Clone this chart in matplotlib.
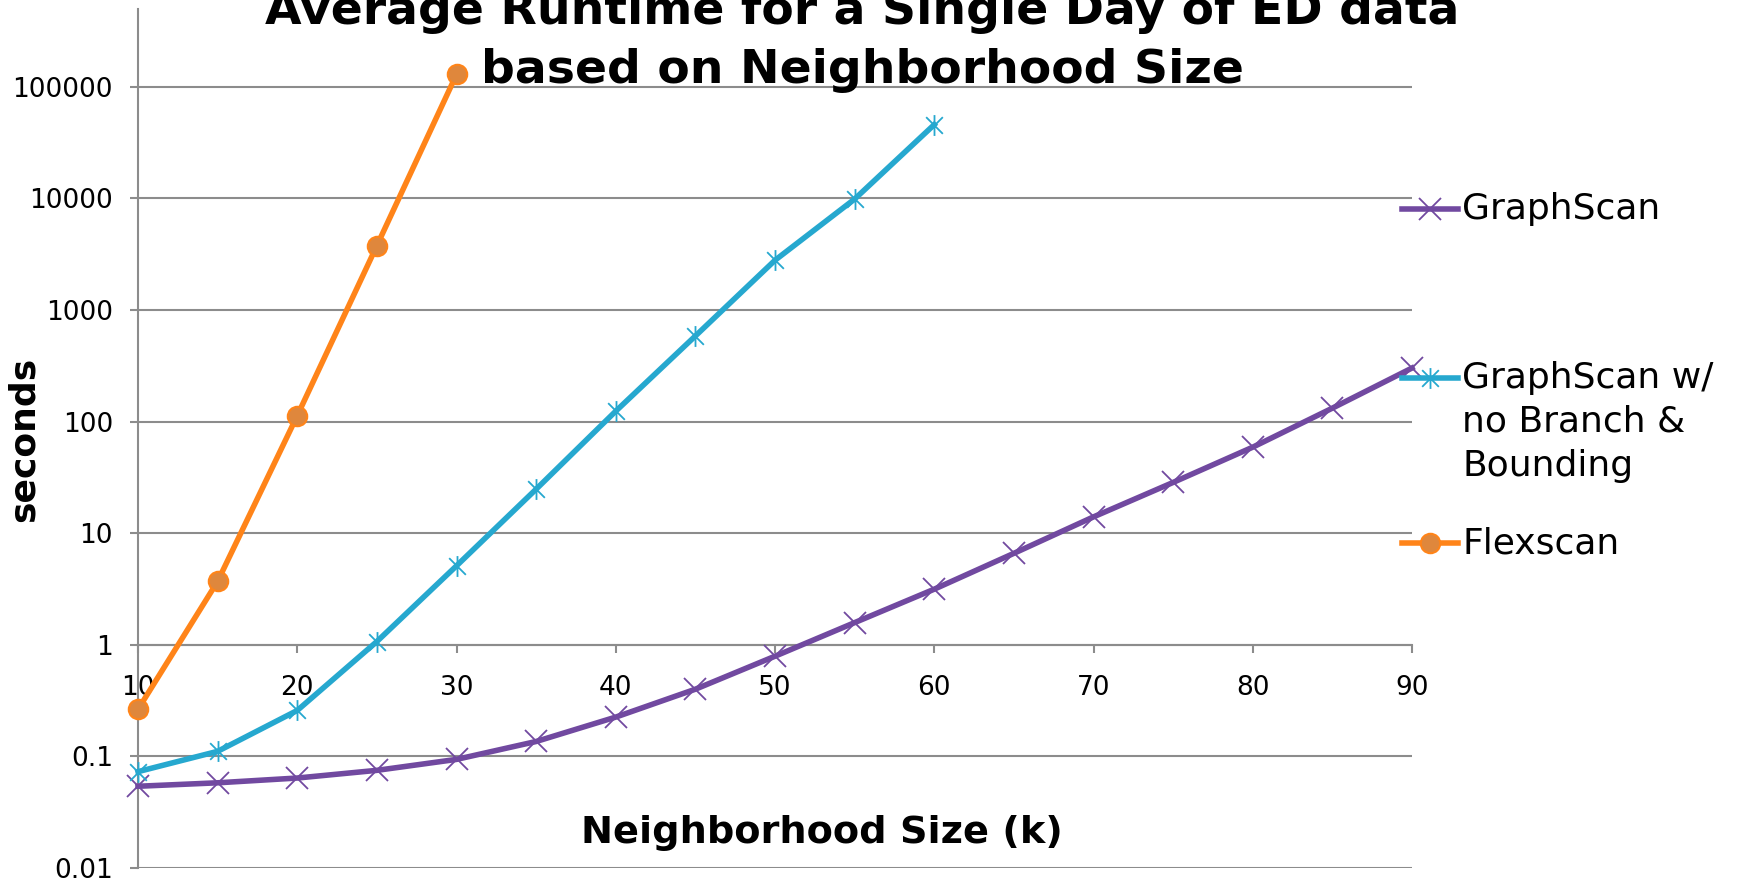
import matplotlib.pyplot as plt
from matplotlib.path import Path
from matplotlib.lines import Line2D

# neighborhood sizes (k) and average runtimes in seconds
k_graphscan = [10, 15, 20, 25, 30, 35, 40, 45, 50, 55, 60, 65, 70, 75, 80, 85, 90]
graphscan = [0.054, 0.058, 0.064, 0.075, 0.094, 0.136, 0.225, 0.40, 0.79, 1.58,
             3.15, 6.6, 14.0, 28.5, 59, 132, 302]

k_nobb = [10, 15, 20, 25, 30, 35, 40, 45, 50, 55, 60]
nobb = [0.073, 0.111, 0.258, 1.07, 5.1, 24.8, 124, 585, 2790, 9860, 45800]

k_flex = [10, 15, 20, 25, 30]
flex = [0.264, 3.7, 113, 3770, 129000]

labels = ["GraphScan", "GraphScan w/\nno Branch &\nBounding", "Flexscan"]
yticks = [0.01, 0.1, 1, 10, 100, 1000, 10000, 100000]
ytick_labels = ["0.01", "0.1", "1", "10", "100", "1000", "10000", "100000"]
xticks = [10, 20, 30, 40, 50, 60, 70, 80, 90]

W, H = 1742, 883
PURPLE = "#7149A0"
CYAN = "#26A8CF"
ORANGE = "#FF8419"
ORANGE_FACE = "#DF873C"
GRID = "#8C8C8C"

# excel style "star" marker: an x with a vertical bar
star = Path([(-1, -1), (1, 1), (-1, 1), (1, -1), (0, -1.25), (0, 1.25)],
            [Path.MOVETO, Path.LINETO, Path.MOVETO, Path.LINETO, Path.MOVETO, Path.LINETO])

plt.rcParams['font.family'] = ['DejaVu Sans']

fig = plt.figure(figsize=(W / 100, H / 100), dpi=100)
ax = fig.add_axes([138 / W, 1 - 868 / H, (1412 - 138) / W, (868 - 9) / H])

styles = [
    dict(color=PURPLE, marker='x', markersize=16, markeredgewidth=1.3),
    dict(color=CYAN, marker=star, markersize=15, markeredgewidth=1.3),
    dict(color=ORANGE, marker='o', markersize=14, markerfacecolor=ORANGE_FACE,
         markeredgecolor=ORANGE, markeredgewidth=1.5),
]

for (xs, ys), st in zip([(k_graphscan, graphscan), (k_nobb, nobb), (k_flex, flex)], styles):
    ax.plot(xs, ys, lw=4, clip_on=False, zorder=3, **st)

ax.set_yscale('log')
ax.set_ylim(0.01, 10 ** 5.697)
ax.set_xlim(10, 90)
ax.set_yticks(yticks)
ax.set_yticklabels(ytick_labels)
ax.minorticks_off()
ax.set_xticks(xticks)
ax.yaxis.grid(True, color=GRID, lw=1.5)
ax.set_axisbelow(True)

for side in ['top', 'right']:
    ax.spines[side].set_visible(False)
ax.spines['left'].set_color(GRID)
ax.spines['left'].set_linewidth(1.5)
ax.spines['bottom'].set_position(('data', 1))
ax.spines['bottom'].set_color(GRID)
ax.spines['bottom'].set_linewidth(1.5)
ax.tick_params(axis='y', length=6, width=1.5, color=GRID, pad=12, labelsize=19)
ax.tick_params(axis='x', length=6, width=1.5, color=GRID, pad=16, labelsize=19)

# title (top line is cut by the image edge, as in the original)
fig.text(862 / W, 1 - 24.5 / H, "Average Runtime for a Single Day of ED data",
         ha='center', va='baseline', fontsize=34, fontweight='bold')
fig.text(862 / W, 1 - 83 / H, "based on Neighborhood Size",
         ha='center', va='baseline', fontsize=34, fontweight='bold')

fig.text(24 / W, 1 - 439 / H, "seconds", rotation=90, ha='center', va='center',
         fontsize=26, fontweight='bold')
fig.text(822 / W, 1 - 833 / H, "Neighborhood Size (k)", ha='center', va='center',
         fontsize=27.5, fontweight='bold')

# legend drawn by hand so the marker sits beside the first text line
legend_y = [209, 378, 543]
for lab, st, y in zip(labels, styles, legend_y):
    fy = 1 - y / H
    fig.add_artist(Line2D([1402 / W, 1430 / W, 1458 / W], [fy, fy, fy],
                          transform=fig.transFigure, lw=4, markevery=[1], **st))
    for i, line in enumerate(lab.split("\n")):
        fig.text(1462 / W, 1 - (y + i * 44) / H, line, ha='left', va='center', fontsize=26)

fig.savefig("out.png", dpi=100)
